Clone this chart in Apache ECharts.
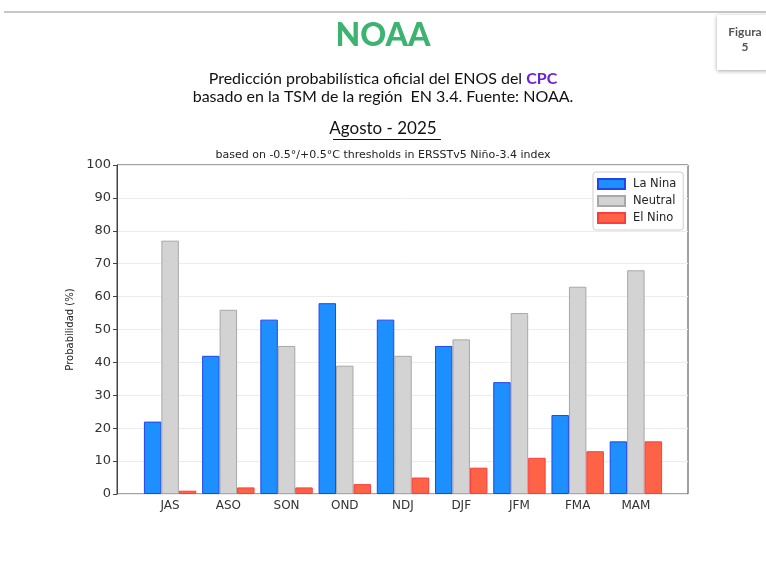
<!DOCTYPE html>
<html><head><meta charset="utf-8">
<script src="https://cdn.jsdelivr.net/npm/echarts@6/dist/echarts.min.js"></script>
<style>html,body{margin:0;padding:0;background:#fff}#c{width:766px;height:579px}</style>
</head><body><div id="c"></div>
<script>
const categories = ['JAS','ASO','SON','OND','NDJ','DJF','JFM','FMA','MAM'];
const laNina  = [22, 42, 53, 58, 53, 45, 34, 24, 16];
const neutral = [77, 56, 45, 39, 42, 47, 55, 63, 68];
const elNino  = [1, 2, 2, 3, 5, 8, 11, 13, 16];
const yTicks = [0,10,20,30,40,50,60,70,80,90,100];

const chart = echarts.init(document.getElementById('c'));
const mpl = 'DejaVu Sans';
const cal = 'Lato';
chart.setOption({
  animation: false,
  backgroundColor: '#fff',
  graphic: [
    {type:'rect', shape:{x:4,y:11,width:762,height:2}, style:{fill:'#c8c8c8'}},
    {type:'rect', shape:{x:717,y:15,width:52,height:55}, style:{fill:'#fff', shadowBlur:4, shadowColor:'rgba(0,0,0,0.35)', shadowOffsetX:0, shadowOffsetY:1}},
    {type:'text', x:745, y:25, style:{text:'Figura\n5', fill:'#555', font:'bold 12px '+cal, lineHeight:15, align:'center'}},
    {type:'text', left:'center', top:20, style:{text:'NOAA', fill:'#3cb371', font:'900 32px '+cal}},
    {type:'text', left:'center', top:71, style:{
      text:'{a|Predicción probabilística oficial del ENOS del }{b|CPC}',
      rich:{a:{fill:'#111', font:'16px '+cal}, b:{fill:'#6a1fd8', font:'bold 16px '+cal}}}},
    {type:'text', left:'center', top:89, style:{text:'basado en la TSM de la región  EN 3.4. Fuente: NOAA.', fill:'#111', font:'16px '+cal}},
    {type:'text', left:'center', top:120, style:{text:'Agosto - 2025', fill:'#111', font:'17px '+cal}},
    {type:'rect', shape:{x:333,y:139,width:108,height:1}, style:{fill:'#111'}},
    {type:'text', left:'center', top:150, style:{text:'based on -0.5°/+0.5°C thresholds in ERSSTv5 Niño-3.4 index', fill:'#222', font:'11px '+mpl}}
  ],
  legend: {
    orient:'vertical', left:593, top:172, itemWidth:27, itemHeight:10, itemGap:5,
    padding:[6,7,6,4], borderColor:'#cfcfcf', borderWidth:1, borderRadius:3,
    backgroundColor:'#fff', icon:'rect',
    textStyle:{fontFamily:mpl, fontSize:11.5, color:'#222', padding:[0,0,0,3]},
    data:['La Nina','Neutral','El Nino']
  },
  grid: [
    {left:117, right:78, top:165, bottom:85, show:true, borderColor:'#444', borderWidth:1, backgroundColor:'transparent'},
    {left:141, right:101, top:165, bottom:85, show:false}
  ],
  xAxis: [
    {type:'value', gridIndex:0, min:0, max:1, show:false},
    {type:'category', gridIndex:1, data:categories,
      axisLine:{show:false}, axisTick:{show:false},
      axisLabel:{fontFamily:mpl, fontSize:12, color:'#333', margin:6}}
  ],
  yAxis: [
    {type:'value', gridIndex:0, min:0, max:100, interval:10,
      name:'Probabilidad (%)', nameLocation:'middle', nameGap:31,
      nameTextStyle:{fontFamily:mpl, fontSize:10, color:'#222'},
      axisLine:{show:true, lineStyle:{color:'#444'}},
      axisTick:{show:true, length:4, lineStyle:{color:'#444'}},
      axisLabel:{fontFamily:mpl, fontSize:13, color:'#333', margin:6,
        formatter: v => yTicks.includes(v) ? String(v) : ''},
      splitLine:{show:true, lineStyle:{color:'#ececec', width:1}}},
    {type:'value', gridIndex:1, min:0, max:100, show:false, splitLine:{show:false}}
  ],
  series: [
    {name:'La Nina', type:'bar', xAxisIndex:1, yAxisIndex:1, data:laNina, barWidth:'30%', barGap:'0%',
      itemStyle:{color:'#1e8fff', borderColor:'#2244ee', borderWidth:1}},
    {name:'Neutral', type:'bar', xAxisIndex:1, yAxisIndex:1, data:neutral, barWidth:'30%', barGap:'0%',
      itemStyle:{color:'#d3d3d3', borderColor:'#a8a8a8', borderWidth:1}},
    {name:'El Nino', type:'bar', xAxisIndex:1, yAxisIndex:1, data:elNino, barWidth:'30%', barGap:'0%',
      itemStyle:{color:'#ff6347', borderColor:'#ff3b3b', borderWidth:1}}
  ]
});
</script></body></html>
